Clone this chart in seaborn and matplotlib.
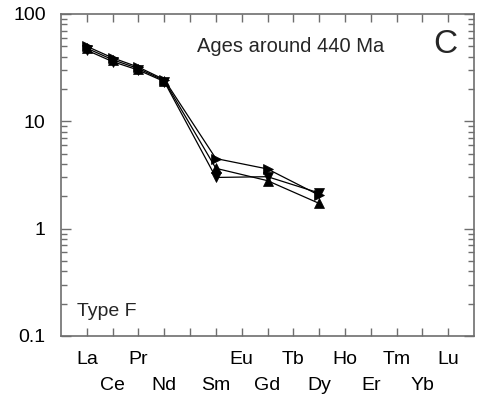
import matplotlib
matplotlib.use("Agg")
import matplotlib.pyplot as plt
import seaborn as sns
import pandas as pd
from matplotlib.ticker import LogLocator, NullFormatter, FixedLocator

# Data
ree = ["La", "Ce", "Pr", "Nd", "Pm", "Sm", "Eu", "Gd", "Tb", "Dy",
       "Ho", "Er", "Tm", "Yb", "Lu"]
measured = ["La", "Ce", "Pr", "Nd", "Sm", "Gd", "Dy"]
sample_a = [50.0, 39.0, 32.0, 24.5, 4.5, 3.6, 2.05]   # right triangles
sample_b = [48.0, 37.5, 31.0, 24.0, 3.65, 2.8, 1.72]  # up triangles
sample_c = [46.0, 36.0, 30.0, 23.5, 3.0, 3.05, 2.15]  # down triangles
samples = {"A": sample_a, "B": sample_b, "C": sample_c}
markers = {"A": ">", "B": "^", "C": "v"}
ytick_vals = [0.1, 1, 10, 100]
ytick_labels = ["0.1", "1", "10", "100"]

rows = []
for name, vals in samples.items():
    for el, v in zip(measured, vals):
        rows.append({"sample": name, "pos": ree.index(el) + 1, "value": v})
df = pd.DataFrame(rows)

sns.set_style("ticks")
plt.rcParams["font.family"] = ["Liberation Sans", "DejaVu Sans"]

fig = plt.figure(figsize=(4.82, 4.0), dpi=100)
ax = fig.add_axes([61 / 482, 1 - 336 / 400, 413 / 482, 322 / 400])

for name in samples:
    sub = df[df["sample"] == name]
    sns.lineplot(data=sub, x="pos", y="value", ax=ax, color="black",
                 linewidth=0.9, marker=markers[name], markersize=7.5,
                 markeredgecolor="black", markerfacecolor="black",
                 markeredgewidth=0.5, legend=False, sort=False)

ax.set_yscale("log")
ax.set_ylim(0.1, 100)
ax.set_xlim(0, 16)
ax.set_xlabel("")
ax.set_ylabel("")

ax.yaxis.set_major_locator(FixedLocator(ytick_vals))
ax.set_yticklabels(ytick_labels)
ax.yaxis.set_minor_locator(LogLocator(base=10, subs=range(2, 10)))
ax.yaxis.set_minor_formatter(NullFormatter())

ax.set_xticks(range(1, 16))
xlabels = []
for i, el in enumerate(ree):
    lab = "" if el == "Pm" else el
    xlabels.append(lab if i % 2 == 0 else "\n" + lab)
ax.set_xticklabels(xlabels)
for t in ax.get_xticklabels():
    t.set_linespacing(1.7)

spine_col = "#6e6e6e"
for s in ax.spines.values():
    s.set_color(spine_col)
    s.set_linewidth(1.2)
    s.set_visible(True)

ax.tick_params(axis="x", which="major", direction="in", top=True, bottom=True,
               length=6, width=1.0, color=spine_col, labelsize=14, pad=11,
               labelcolor="black")
ax.tick_params(axis="y", which="major", direction="in", left=True, right=True,
               length=7, width=1.0, color=spine_col, labelsize=14, pad=11,
               labelcolor="black")
ax.tick_params(axis="y", which="minor", direction="in", left=True, right=True,
               length=4, width=1.0, color=spine_col)

ax.text(0.329, 0.90, "Ages around 440 Ma", transform=ax.transAxes,
        fontsize=14.5, ha="left", va="center")
ax.text(0.93, 0.905, "C", transform=ax.transAxes, fontsize=24,
        ha="center", va="center")
ax.text(0.039, 0.075, "Type F", transform=ax.transAxes, fontsize=14,
        ha="left", va="center")

fig.savefig("out.png", dpi=100)
